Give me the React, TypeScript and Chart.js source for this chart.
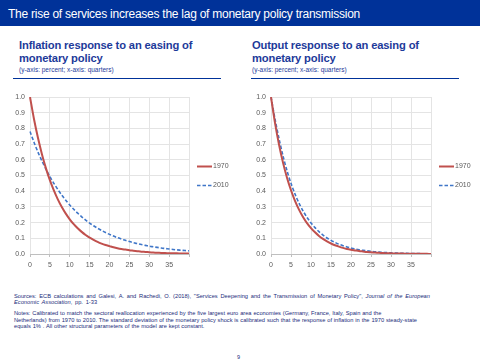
import React, { useEffect, useRef } from "react";
import { Chart, registerables } from "chart.js";

Chart.register(...registerables);

const quarters = [
  "0", "1", "2", "3", "4", "5", "6", "7", "8", "9",
  "10", "11", "12", "13", "14", "15", "16", "17", "18", "19",
  "20", "21", "22", "23", "24", "25", "26", "27", "28", "29",
  "30", "31", "32", "33", "34", "35", "36", "37", "38", "39", "40",
];
const xTickLabels = ["0", "5", "10", "15", "20", "25", "30", "35"];
const seriesNames = ["1970", "2010"];

const inflation1970 = [
  1.0, 0.86, 0.74, 0.636, 0.547, 0.47, 0.405, 0.348, 0.299, 0.257,
  0.221, 0.19, 0.164, 0.141, 0.121, 0.104, 0.09, 0.077, 0.066, 0.057,
  0.05, 0.043, 0.037, 0.032, 0.028, 0.024, 0.021, 0.018, 0.015, 0.013,
  0.011, 0.0095, 0.008, 0.007, 0.006, 0.005, 0.0045, 0.004, 0.0035, 0.003, 0.0025,
];
const inflation2010 = [
  0.78, 0.712, 0.649, 0.593, 0.541, 0.493, 0.45, 0.411, 0.375, 0.342,
  0.312, 0.285, 0.26, 0.237, 0.216, 0.197, 0.18, 0.164, 0.15, 0.137,
  0.125, 0.114, 0.104, 0.095, 0.087, 0.079, 0.072, 0.066, 0.06, 0.055,
  0.05, 0.046, 0.042, 0.038, 0.035, 0.032, 0.029, 0.026, 0.024, 0.022, 0.02,
];
const output1970 = [
  1.0, 0.835, 0.697, 0.582, 0.486, 0.406, 0.339, 0.283, 0.236, 0.197,
  0.165, 0.138, 0.115, 0.096, 0.08, 0.067, 0.056, 0.047, 0.039, 0.032,
  0.027, 0.023, 0.019, 0.016, 0.013, 0.011, 0.009, 0.0075, 0.006, 0.005,
  0.004, 0.0035, 0.003, 0.0025, 0.002, 0.0015, 0.0013, 0.001, 0.001, 0.0008, 0.0007,
];
const output2010 = [
  1.0, 0.86, 0.735, 0.625, 0.53, 0.45, 0.382, 0.324, 0.275, 0.233,
  0.198, 0.168, 0.142, 0.121, 0.102, 0.087, 0.074, 0.062, 0.053, 0.045,
  0.038, 0.032, 0.027, 0.023, 0.02, 0.017, 0.014, 0.012, 0.01, 0.0085,
  0.007, 0.006, 0.005, 0.0043, 0.0037, 0.003, 0.0026, 0.0022, 0.0019, 0.0016, 0.0014,
];

const ECB_BLUE = "#003299";
const RED = "#c0504d";
const BLUE = "#3f76c8";
const TICK_GREY = "#595959";
const FONT = "'Liberation Sans', Arial, sans-serif";

const sideLegend = {
  id: "sideLegend",
  afterDraw(chart: any) {
    const { ctx, chartArea } = chart;
    const cy = (chartArea.top + chartArea.bottom) / 2;
    chart.data.datasets.forEach((ds: any, i: number) => {
      const y = Math.round(cy - 9.5 + i * 19) + 0.5;
      const x0 = chartArea.right + 8;
      ctx.save();
      ctx.strokeStyle = ds.borderColor;
      ctx.lineWidth = ds.borderWidth;
      ctx.setLineDash(ds.borderDash || []);
      ctx.beginPath();
      ctx.moveTo(x0, y);
      ctx.lineTo(x0 + 15, y);
      ctx.stroke();
      ctx.setLineDash([]);
      ctx.fillStyle = TICK_GREY;
      ctx.font = "7px " + FONT;
      ctx.textBaseline = "middle";
      ctx.textAlign = "left";
      ctx.fillText(ds.label, x0 + 16, y);
      ctx.restore();
    });
  },
};

function IrfChart({ a, b, left, yWidth, padRight }: { a: number[]; b: number[]; left: number; yWidth: number; padRight: number }) {
  const ref = useRef<HTMLCanvasElement>(null);
  useEffect(() => {
    if (!ref.current) return;
    const chart = new Chart(ref.current, {
      type: "line",
      data: {
        labels: quarters,
        datasets: [
          {
            label: seriesNames[0],
            data: a,
            borderColor: RED,
            borderWidth: 2,
            pointRadius: 0,
            tension: 0.3,
            fill: false,
          },
          {
            label: seriesNames[1],
            data: b,
            borderColor: BLUE,
            borderWidth: 1.6,
            borderDash: [3.5, 2],
            pointRadius: 0,
            tension: 0.3,
            fill: false,
          },
        ],
      },
      options: {
        animation: false,
        responsive: false,
        maintainAspectRatio: false,
        layout: { padding: { left: 0, right: padRight, top: 12, bottom: 0 } },
        plugins: { legend: { display: false }, tooltip: { enabled: false } },
        scales: {
          x: {
            type: "category",
            offset: false,
            grid: {
              color: (c: any) => (c.index % 5 === 0 ? "#e4e4e4" : "rgba(0,0,0,0)"),
              tickLength: 3,
              tickColor: (c: any) => (c.index % 5 === 0 ? "#bfbfbf" : "rgba(0,0,0,0)"),
            },
            border: { color: "#bfbfbf", width: 1 },
            ticks: {
              autoSkip: false,
              maxRotation: 0,
              minRotation: 0,
              padding: 4,
              color: TICK_GREY,
              font: { size: 7, family: FONT },
              callback: (_v: any, i: number) => (xTickLabels.includes(quarters[i]) ? quarters[i] : ""),
            },
            afterFit: (s: any) => {
              s.height = 26;
            },
          },
          y: {
            min: 0,
            max: 1,
            grid: { color: "#e4e4e4", drawTicks: false },
            border: { display: false },
            ticks: {
              stepSize: 0.1,
              padding: 5,
              color: TICK_GREY,
              font: { size: 7, family: FONT },
              callback: (v: any) => Number(v).toFixed(1),
            },
            afterFit: (s: any) => {
              s.width = yWidth;
            },
          },
        },
      },
      plugins: [sideLegend],
    } as any);
    return () => chart.destroy();
  }, []);
  return (
    <canvas
      ref={ref}
      width={240}
      height={195}
      style={{ position: "absolute", left, top: 85, width: 240, height: 195 }}
    />
  );
}

function Heading({ left, lineLeft, lines }: { left: number; lineLeft: number; lines: string[] }) {
  return (
    <>
      <div
        style={{
          position: "absolute",
          left,
          top: 39,
          fontFamily: FONT,
          fontWeight: "bold",
          fontSize: 11.2,
          lineHeight: "12.6px",
          color: "#1d3a9a",
          whiteSpace: "nowrap",
          letterSpacing: -0.15,
        }}
      >
        {lines[0]}
        <br />
        {lines[1]}
      </div>
      <div
        style={{
          position: "absolute",
          left,
          top: 65.8,
          fontFamily: FONT,
          fontSize: 6.5,
          lineHeight: "7px",
          color: "#1d3a9a",
          whiteSpace: "nowrap",
        }}
      >
        (y-axis: percent; x-axis: quarters)
      </div>
      <div style={{ position: "absolute", left: lineLeft, top: 77.5, width: 208, height: 1.5, background: ECB_BLUE }} />
    </>
  );
}

export default function App() {
  useEffect(() => {
    document.body.style.margin = "0";
  }, []);
  const note: React.CSSProperties = {
    position: "absolute",
    left: 14,
    fontFamily: FONT,
    fontSize: 5.7,
    lineHeight: "6.7px",
    color: "#1a2b7a",
    whiteSpace: "nowrap",
    wordSpacing: 0.3,
  };
  return (
    <div style={{ position: "fixed", left: 0, top: 0, width: 480, height: 360, background: "#fff", overflow: "hidden" }}>
      <div
        style={{
          position: "absolute",
          left: 0,
          top: 0,
          width: 480,
          height: 26,
          background: ECB_BLUE,
          color: "#fff",
          fontFamily: FONT,
          fontSize: 12,
          lineHeight: "29px",
          paddingLeft: 8,
          boxSizing: "border-box",
          whiteSpace: "nowrap",
          letterSpacing: -0.25,
        }}
      >
        The rise of services increases the lag of monetary policy transmission
      </div>
      <Heading left={19} lineLeft={13} lines={["Inflation response to an easing of", "monetary policy"]} />
      <Heading left={252} lineLeft={251} lines={["Output response to an easing of", "monetary policy"]} />
      <IrfChart a={inflation1970} b={inflation2010} left={0} yWidth={30} padRight={51} />
      <IrfChart a={output1970} b={output2010} left={240} yWidth={31} padRight={49} />
      <div style={{ ...note, top: 292.6, wordSpacing: 1.2 }}>
        Sources: ECB calculations and Galesi, A. and Rachedi, O. (2018), "Services Deepening and the Transmission of Monetary Policy", <i>Journal of the European</i>
        <br />
        <i>Economic Association</i>, pp. 1-33
      </div>
      <div style={{ ...note, top: 310 }}>
        Notes: Calibrated to match the sectoral reallocation experienced by the five largest euro area economies (Germany, France, Italy, Spain and the
        <br />
        Netherlands) from 1970 to 2010. The standard deviation of the monetary policy shock is calibrated such that the response of inflation in the 1970 steady-state
        <br />
        equals 1% . All other structural parameters of the model are kept constant.
      </div>
      <div style={{ position: "absolute", left: 237, top: 354, fontFamily: FONT, fontSize: 5.5, lineHeight: "7px", color: "#1a2b7a" }}>9</div>
    </div>
  );
}
